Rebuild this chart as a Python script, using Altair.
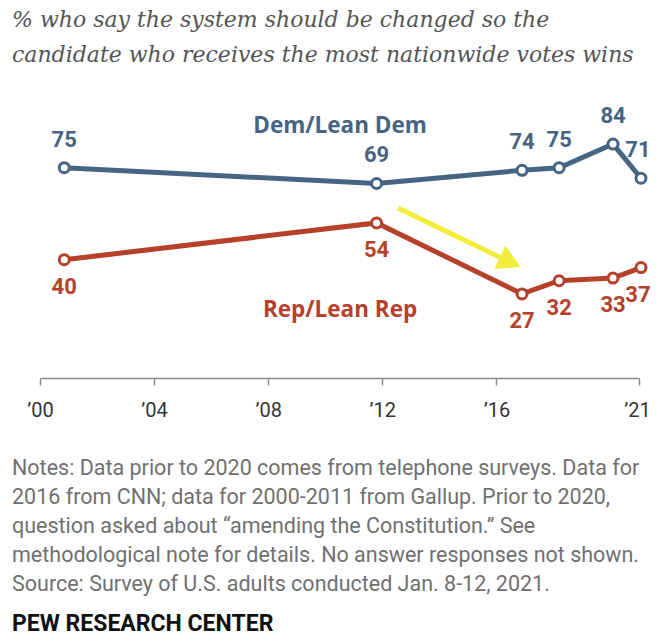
import altair as alt
import pandas as pd

# ---- data ----
dem_years = [2000.85, 2011.8, 2016.9, 2018.2, 2020.09, 2021.07]
dem_values = [75, 69, 74, 75, 84, 71]
rep_years = [2000.85, 2011.8, 2016.9, 2018.2, 2020.09, 2021.07]
rep_values = [40, 54, 27, 32, 33, 37]

tick_years = [2000, 2004, 2008, 2012, 2016, 2021]

series_names = ["Dem/Lean Dem", "Rep/Lean Rep"]
series_label_year = [2010.52, 2010.52]
series_label_value = [90.9, 20.9]

arrow_start = (2012.55, 59.7)
arrow_end = (2016.30, 40.0)
arrow_head = (2016.48, 39.1)

title_lines = [
    "% who say the system should be changed so the",
    "candidate who receives the most nationwide votes wins",
]
notes_lines = [
    "Notes: Data prior to 2020 comes from telephone surveys. Data for",
    "2016 from CNN; data for 2000-2011 from Gallup. Prior to 2020,",
    "question asked about \u201camending the Constitution.\u201d See",
    "methodological note for details. No answer responses not shown.",
    "Source: Survey of U.S. adults conducted Jan. 8-12, 2021.",
]
source_label = "PEW RESEARCH CENTER"

DEM = "#466483"
REP = "#b5412b"
YEL = "#f2ec3b"
SANS = "Roboto"

dem = pd.DataFrame({"year": dem_years, "value": dem_values, "series": series_names[0]})
rep = pd.DataFrame({"year": rep_years, "value": rep_values, "series": series_names[1]})
df = pd.concat([dem, rep], ignore_index=True)
last_year = max(dem_years)

xs = alt.Scale(domain=[2000, 2021], nice=False, zero=False)
ys = alt.Scale(domain=[-5, 100], nice=False, zero=False)

x_axis = alt.Axis(
    values=tick_years,
    labelExpr="'\u2019' + substring(toString(datum.value), 2)",
    grid=False,
    domainColor="#8a8a8a",
    domainWidth=1.5,
    tickColor="#8a8a8a",
    tickWidth=1.5,
    tickSize=7,
    labelFont=SANS,
    labelFontSize=20,
    labelColor="#333333",
    labelPadding=15,
    labelFlush=False,
    labelOffset=alt.condition("datum.value == 2021", alt.value(-2), alt.value(0)),
    title=None,
)


def X(field="year"):
    return alt.X(f"{field}:Q", scale=xs, axis=x_axis)


def Y(field="value"):
    return alt.Y(f"{field}:Q", scale=ys, axis=None)


series_scale = alt.Scale(domain=series_names, range=[DEM, REP])

lines = alt.Chart(df).mark_line(strokeWidth=5).encode(
    x=X(), y=Y(),
    color=alt.Color("series:N", scale=series_scale, legend=None),
)
points = alt.Chart(df).mark_point(
    shape="circle", filled=False, fill="white", fillOpacity=1, size=100, strokeWidth=3, opacity=1
).encode(
    x=X(), y=Y(),
    stroke=alt.Stroke("series:N", scale=series_scale, legend=None),
)


def value_labels(data, color, dy):
    common = dict(font=SANS, fontSize=22, fontWeight="bold", baseline="middle", color=color)
    main = alt.Chart(data).transform_filter(
        alt.datum.year < last_year
    ).mark_text(dy=dy, **common).encode(x=X(), y=Y(), text="value:Q")
    end = alt.Chart(data).transform_filter(
        alt.datum.year >= last_year
    ).mark_text(dy=dy, dx=-3, **common).encode(x=X(), y=Y(), text="value:Q")
    return [main, end]


dem_labels = value_labels(dem, DEM, -28)
rep_labels = value_labels(rep, REP, 27)

names_df = pd.DataFrame({"series": series_names, "year": series_label_year, "value": series_label_value})
names = alt.Chart(names_df).mark_text(
    font="Open Sans", fontSize=22.5, fontWeight="bold", baseline="middle", align="center"
).encode(
    x=X(), y=Y(),
    text="series:N",
    color=alt.Color("series:N", scale=series_scale, legend=None),
)

arrow_df = pd.DataFrame({"year": [arrow_start[0]], "value": [arrow_start[1]],
                         "year2": [arrow_end[0]], "value2": [arrow_end[1]]})
arrow_shaft = alt.Chart(arrow_df).mark_rule(color=YEL, strokeWidth=5).encode(
    x=X(), y=Y(), x2="year2:Q", y2="value2:Q"
)
head_df = pd.DataFrame({"year": [arrow_head[0]], "value": [arrow_head[1]]})
arrow_tip = alt.Chart(head_df).mark_point(
    shape="triangle-right", filled=True, color=YEL, size=680, angle=25, opacity=1
).encode(x=X(), y=Y())

foot_df = pd.DataFrame({"t": ["\n".join(notes_lines)], "s": [source_label]})
notes = alt.Chart(foot_df).mark_text(
    font=SANS, fontSize=21.5, color="#707070", align="left", baseline="alphabetic",
    lineBreak="\n", lineHeight=29,
).encode(x=alt.value(-28), y=alt.value(373), text="t:N")

source = alt.Chart(foot_df).mark_text(
    font=SANS, fontSize=23, fontWeight="bold", color="#111111", align="left", baseline="alphabetic"
).encode(x=alt.value(-28), y=alt.value(529), text="s:N")

chart = alt.layer(
    arrow_shaft, arrow_tip, lines, points, *dem_labels, *rep_labels, names, notes, source
).properties(
    width=599,
    height=276,
    title=alt.TitleParams(
        text=title_lines,
        anchor="start",
        frame="group",
        font="DejaVu Serif",
        fontStyle="italic",
        fontWeight="normal",
        fontSize=22,
        color="#555555",
        lineHeight=35,
        dx=-28,
        offset=35,
    ),
    padding={"left": 32, "top": 94, "right": 12, "bottom": 258},
    autosize=alt.AutoSizeParams(type="none"),
).configure_view(stroke=None)

chart.save("out.html", embed_options={"renderer": "svg", "actions": False})
